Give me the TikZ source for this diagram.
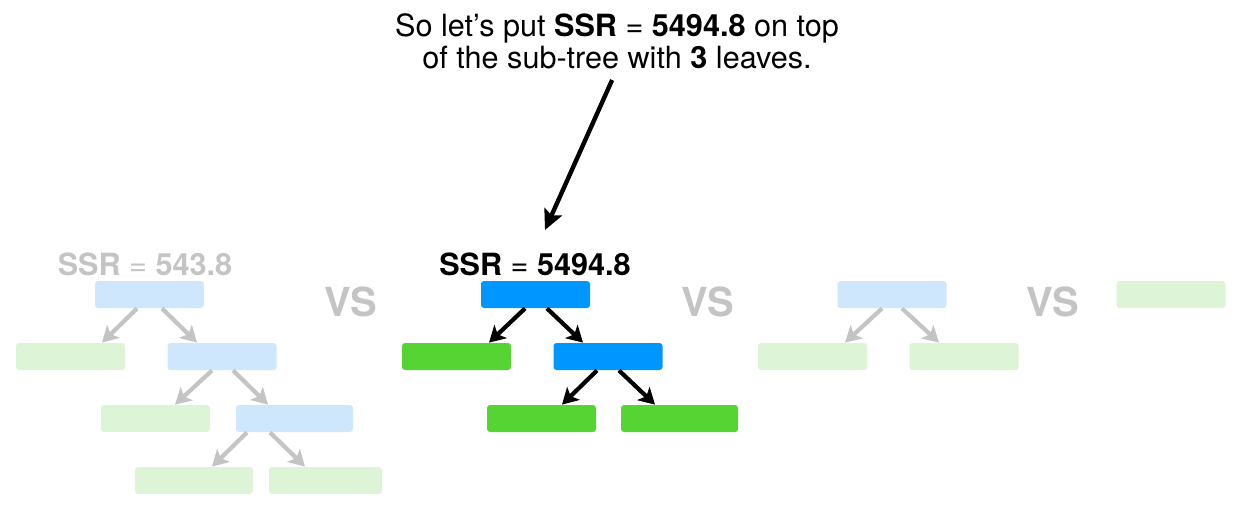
\documentclass[tikz,border=0pt]{standalone}
\usepackage{fontspec}
\setmainfont{TeX Gyre Heros}
\usetikzlibrary{positioning, arrows.meta}

\definecolor{splitblue}{RGB}{0,150,255}
\definecolor{leafgreen}{RGB}{85,212,52}
\definecolor{paleblue}{RGB}{207,231,252}
\definecolor{palegreen}{RGB}{221,245,214}
\definecolor{palegray}{RGB}{196,196,196}

\begin{document}
\begin{tikzpicture}[node distance=31pt]

    \tikzstyle{split} = [rectangle, rounded corners=1.5pt, minimum width=54.5pt, minimum height=13.5pt, inner sep=0pt, fill=splitblue]
    \tikzstyle{leaf} = [rectangle, rounded corners=1.5pt, minimum width=54.5pt, minimum height=13.5pt, inner sep=0pt, fill=leafgreen]
    \tikzstyle{fsplit} = [split, fill=paleblue]
    \tikzstyle{fleaf} = [leaf, fill=palegreen]
    \tikzstyle{ssr} = [font=\fontsize{15.3pt}{16pt}\selectfont, inner sep=0pt]
    \tikzstyle{note} = [font=\fontsize{15.3pt}{16pt}\selectfont, align=center, inner sep=0pt]
    \tikzstyle{vs} = [font=\fontsize{20pt}{22pt}\selectfont\bfseries, text=palegray, inner sep=0pt]
    \tikzstyle{arrow} = [line width=2.1pt, -{Stealth[length=8pt, width=9pt, inset=2pt]}]
    \tikzstyle{farrow} = [arrow, draw=palegray]
    \tikzstyle{bigarrow} = [line width=2.2pt, -{Stealth[length=10pt, width=9.5pt, inset=2pt]}]

    \useasboundingbox (0,0) rectangle (617.5pt,-255pt);

    % question
    \node[note] (note) at (308.5pt,-20.5pt) {So let's put \textbf{SSR} = \textbf{5494.8} on top\\of the sub-tree with \textbf{3} leaves.};
    \coordinate (tip) at (272.5pt,-115pt);
    \draw[bigarrow, shorten <=6pt] (note.south) -- (tip);

    % tree with 4 leaves
    \node[fsplit] (lroot) at (74.75pt,-147.25pt) {};
    \node[ssr, text=palegray, above of=lroot, yshift=-15.75pt, xshift=-2.25pt] (lssr) {\textbf{SSR} = \textbf{543.8}};
    \node[fleaf,  below of=lroot, xshift=-39.5pt] (l1) {};
    \node[fsplit, below of=lroot, xshift=36.25pt] (lb) {};
    \node[fleaf,  below of=lb, xshift=-33.25pt] (l2) {};
    \node[fsplit, below of=lb, xshift=36.25pt, minimum width=58.5pt] (lc) {};
    \node[fleaf,  below of=lc, xshift=-50.25pt, minimum width=59pt] (l3) {};
    \node[fleaf,  below of=lc, xshift=15.5pt, minimum width=56.5pt] (l4) {};

    \draw[farrow] ([xshift=-6.25pt]lroot.south) -- ([xshift=15.75pt]l1.north);
    \draw[farrow] ([xshift=6.25pt]lroot.south) -- ([xshift=-12.5pt]lb.north);
    \draw[farrow] ([xshift=-5pt]lb.south) -- ([xshift=9.75pt]l2.north);
    \draw[farrow] ([xshift=5.5pt]lb.south) -- ([xshift=-13.25pt]lc.north);
    \draw[farrow] ([xshift=-23.75pt]lc.south) -- ([xshift=9pt]l3.north);
    \draw[farrow] ([xshift=-12.25pt]lc.south) -- ([xshift=-10.25pt]l4.north);

    \node[vs] (vs1) at (175.5pt,-151pt) {VS};

    % tree with 3 leaves
    \node[split] (mroot) at (267.75pt,-147.25pt) {};
    \node[ssr, above of=mroot, yshift=-15.75pt, xshift=-0.25pt] (mssr) {\textbf{SSR} = \textbf{5494.8}};
    \node[leaf,  below of=mroot, xshift=-39.5pt] (ml) {};
    \node[split, below of=mroot, xshift=36.25pt] (mb) {};
    \node[leaf,  below of=mb, xshift=-33.25pt] (mll) {};
    \node[leaf,  below of=mb, xshift=35.75pt, minimum width=58.5pt] (mlr) {};

    \draw[arrow] ([xshift=-5.25pt]mroot.south) -- ([xshift=16.25pt]ml.north);
    \draw[arrow] ([xshift=5.75pt]mroot.south) -- ([xshift=-12.5pt]mb.north);
    \draw[arrow] ([xshift=-5.5pt]mb.south) -- ([xshift=10.25pt]mll.north);
    \draw[arrow] ([xshift=5.5pt]mb.south) -- ([xshift=-12.25pt]mlr.north);

    \node[vs] (vs2) at (354pt,-151pt) {VS};

    % tree with 2 leaves
    \node[fsplit] (rroot) at (446pt,-147.25pt) {};
    \node[fleaf, below of=rroot, xshift=-39.75pt] (r1) {};
    \node[fleaf, below of=rroot, xshift=36pt] (r2) {};

    \draw[farrow] ([xshift=-5pt]rroot.south) -- ([xshift=16.25pt]r1.north);
    \draw[farrow] ([xshift=5pt]rroot.south) -- ([xshift=-12.5pt]r2.north);

    \node[vs] (vs3) at (526.25pt,-151pt) {VS};

    % single leaf
    \node[fleaf] (solo) at (585.5pt,-147.25pt) {};

\end{tikzpicture}
\end{document}
